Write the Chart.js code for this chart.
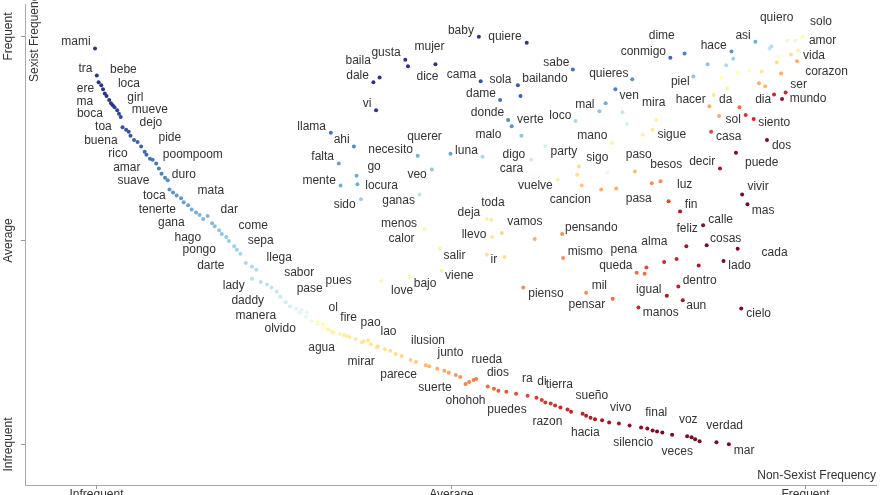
<!DOCTYPE html>
<html>
<head>
<meta charset="utf-8">
<script src="https://cdn.jsdelivr.net/npm/chart.js@4"></script>
<style>
  html, body { margin: 0; padding: 0; background: #fff; }
  #wrap { width: 880px; height: 495px; }
</style>
</head>
<body>
<div id="wrap"><canvas id="chart" width="880" height="495"></canvas></div>
<script>
// rank scale: Infrequent = 0.1, Average = 0.5, Frequent = 0.9
const tickValues = [0.1, 0.5, 0.9];
const tickLabels = ['Infrequent', 'Average', 'Frequent'];

// labelled terms (where the word is written), x = non-sexist rank, y = sexist rank
const words = ['mami','tra','bebe','ere','loca','ma','girl','boca','mueve','dejo','toa','buena','pide','rico','poompoom','amar','duro','suave','mata','toca','tenerte','dar','gana','come','hago','sepa','pongo','llega','darte','sabor','pues','lady','pase','daddy','ol','manera','fire','pao','olvido','lao','ilusion','agua','junto','rueda','mirar','dios','parece','ra','di','tierra','suerte','sueño','ohohoh','vivo','puedes','final','voz','razon','verdad','hacia','silencio','mar','veces',
  'baby','quiere','mujer','gusta','baila','sabe','dale','dice','cama','sola','bailando','dame','vi','donde','verte','loco','llama','ahi','querer','malo','necesito','luna','digo','party','falta','go','veo','cara','mente','locura','vuelve','sido','ganas','toda','cancion','deja','menos','vamos','pensando','calor','llevo','salir','ir','mismo','viene','bajo','love','pienso',
  'quiero','solo','dime','asi','amor','hace','conmigo','vida','corazon','quieres','piel','ser','ven','mundo','hacer','da','dia','mira','mal','sol','siento','mano','sigue','casa','dos','sigo','paso','besos','decir','puede','luz','vivir','pasa','fin','mas','calle','feliz','cosas','alma','pena','cada','queda','lado','dentro','mil','igual','pensar','aun','manos','cielo'];

const wordX = [0.0775,0.0882,0.1310,0.0882,0.1372,0.0876,0.1445,0.0932,0.1608,0.1620,0.1085,0.1056,0.1834,0.1248,0.2093,0.1349,0.1992,0.1423,0.2296,0.1659,0.1693,0.2504,0.1851,0.2775,0.2037,0.2859,0.2166,0.3068,0.2296,0.3293,0.3738,0.2555,0.3411,0.2713,0.3676,0.2803,0.3851,0.4099,0.3079,0.4301,0.4746,0.3546,0.5000,0.5411,0.3992,0.5535,0.4414,0.5868,0.6031,0.6228,0.4825,0.6594,0.5169,0.6921,0.5637,0.7321,0.7682,0.6093,0.8093,0.6521,0.7062,0.8313,0.7558,
  0.5118,0.5614,0.4763,0.4273,0.3958,0.6194,0.3952,0.4741,0.5124,0.5563,0.6065,0.5344,0.4059,0.5417,0.5901,0.6239,0.3434,0.3772,0.4707,0.5428,0.4324,0.5180,0.5715,0.6279,0.3558,0.4138,0.4623,0.5687,0.3518,0.4223,0.5958,0.3806,0.4414,0.5479,0.6352,0.5208,0.4420,0.5839,0.6589,0.4448,0.5265,0.5045,0.5490,0.6521,0.5101,0.4713,0.4454,0.6076,
  0.8679,0.9180,0.7383,0.8301,0.9197,0.7969,0.7175,0.9101,0.9242,0.6786,0.7592,0.8927,0.7017,0.9034,0.7710,0.8104,0.8527,0.7293,0.6515,0.8189,0.8651,0.6600,0.7496,0.8138,0.8735,0.6656,0.7124,0.7434,0.7839,0.8510,0.7642,0.8470,0.7124,0.7715,0.8527,0.8048,0.7670,0.8104,0.7299,0.6955,0.8656,0.6865,0.8262,0.7811,0.6679,0.7237,0.6538,0.7772,0.7372,0.8476];

const wordY = [0.8883,0.8359,0.8340,0.7971,0.8068,0.7699,0.7796,0.7466,0.7544,0.7291,0.7214,0.6942,0.7000,0.6689,0.6670,0.6417,0.6282,0.6165,0.5971,0.5874,0.5602,0.5602,0.5330,0.5272,0.5039,0.4981,0.4806,0.4650,0.4495,0.4359,0.4204,0.4107,0.4049,0.3816,0.3680,0.3524,0.3485,0.3388,0.3272,0.3214,0.3039,0.2883,0.2786,0.2650,0.2612,0.2398,0.2359,0.2282,0.2223,0.2165,0.2107,0.1951,0.1854,0.1718,0.1680,0.1621,0.1485,0.1447,0.1369,0.1233,0.1039,0.0883,0.0864,
  0.9097,0.8981,0.8786,0.8670,0.8515,0.8476,0.8223,0.8204,0.8243,0.8146,0.8165,0.7874,0.7660,0.7485,0.7350,0.7427,0.7214,0.6961,0.7019,0.7058,0.6767,0.6748,0.6670,0.6728,0.6631,0.6437,0.6282,0.6398,0.6165,0.6068,0.6068,0.5699,0.5777,0.5738,0.5796,0.5544,0.5311,0.5350,0.5233,0.5019,0.5097,0.4689,0.4612,0.4767,0.4301,0.4146,0.4010,0.3951,
  0.9350,0.9272,0.9000,0.9000,0.8903,0.8806,0.8689,0.8612,0.8301,0.8262,0.8107,0.8049,0.7835,0.7777,0.7738,0.7738,0.7738,0.7680,0.7641,0.7350,0.7291,0.7039,0.7058,0.7019,0.6845,0.6612,0.6670,0.6476,0.6534,0.6515,0.6087,0.6049,0.5816,0.5699,0.5583,0.5408,0.5214,0.5019,0.4961,0.4806,0.4748,0.4495,0.4495,0.4204,0.4107,0.4029,0.3738,0.3718,0.3583,0.3563];

// term points: [non-sexist rank, sexist rank, score]  score 1 = sexist, 0 = non-sexist
const sexistStreak = [
  [0.099,0.875,1],[0.101,0.822,1],[0.103,0.809,1],[0.106,0.803,1],[0.108,0.795,1],[0.110,0.787,1],[0.112,0.782,1],[0.115,0.774,1],[0.117,0.768,1],[0.119,0.764,1],
  [0.121,0.760,.98],[0.124,0.754,.98],[0.126,0.747,.97],[0.128,0.741,.97],[0.130,0.721,.95],[0.134,0.716,.95],[0.137,0.712,.95],[0.139,0.704,.95],[0.143,0.696,.93],[0.147,0.692,.93],
  [0.151,0.683,.93],[0.155,0.673,.92],[0.157,0.667,.92],[0.161,0.659,.9],[0.164,0.657,.9],[0.168,0.650,.9],[0.171,0.640,.88],[0.174,0.630,.88],[0.178,0.622,.87],[0.181,0.617,.86],
  [0.183,0.599,.85],[0.187,0.593,.85],[0.191,0.587,.84],[0.196,0.582,.84],[0.199,0.574,.82],[0.204,0.568,.82],[0.208,0.560,.8],[0.213,0.554,.8],[0.217,0.549,.78],[0.221,0.541,.78],
  [0.226,0.547,.78],[0.231,0.533,.77],[0.234,0.527,.76],[0.239,0.519,.75],[0.242,0.512,.75],[0.247,0.506,.74],[0.250,0.498,.73],[0.256,0.488,.72],[0.259,0.481,.72],[0.263,0.473,.71],
  [0.269,0.455,.7],[0.276,0.448,.7],[0.281,0.442,.69],[0.276,0.424,.68],[0.286,0.418,.68],[0.293,0.413,.67],[0.298,0.407,.66],[0.304,0.399,.65],[0.308,0.389,.64],[0.314,0.378,.63],
  [0.319,0.370,.62],[0.326,0.366,.6],[0.330,0.358,.6],[0.337,0.350,.58],[0.343,0.341,.55],[0.350,0.335,.53],[0.358,0.327,.5],[0.366,0.321,.48],[0.375,0.316,.46],[0.383,0.312,.45],
  [0.393,0.306,.44],[0.402,0.302,.42],[0.410,0.296,.42],[0.418,0.292,.4]
];

const neutralStreak = [
  [0.332,0.364,.58],[0.338,0.358,.57],[0.350,0.339,.5],[0.356,0.335,.48],[0.362,0.325,.46],[0.368,0.319,.45],[0.380,0.314,.44],[0.386,0.310,.44],[0.400,0.300,.42],[0.407,0.304,.42],
  [0.417,0.290,.41],[0.426,0.286,.4],[0.432,0.283,.4],[0.438,0.277,.39],[0.445,0.273,.38],[0.455,0.265,.37],[0.461,0.261,.36],[0.472,0.255,.33],[0.476,0.253,.32],[0.485,0.248,.3],
  [0.493,0.244,.29],[0.498,0.240,.28],[0.506,0.236,.27],[0.511,0.232,.26],[0.517,0.218,.23],[0.521,0.222,.23],[0.526,0.226,.23],[0.529,0.228,.23],[0.542,0.213,.2],[0.549,0.209,.19],
  [0.554,0.205,.18],[0.563,0.203,.17],[0.574,0.199,.16],[0.587,0.195,.15],[0.597,0.191,.13],[0.603,0.187,.13],[0.607,0.182,.12],[0.613,0.180,.12],[0.618,0.176,.11],[0.624,0.172,.1],
  [0.632,0.168,.1],[0.636,0.164,.09],[0.649,0.160,.08],[0.653,0.156,.07],[0.658,0.152,.07],[0.663,0.149,.06],[0.671,0.147,.05],[0.679,0.143,.05],[0.690,0.141,.04],[0.702,0.137,.03],
  [0.715,0.133,.02],[0.722,0.131,.02],[0.728,0.127,.01],[0.733,0.125,0],[0.739,0.123,0],[0.750,0.119,0],[0.767,0.116,0],[0.772,0.114,0],[0.776,0.110,0],[0.781,0.106,0],
  [0.800,0.104,0],[0.814,0.100,0]
];

const middleCloud = [
  [0.532,0.898,1],[0.586,0.886,1],[0.483,0.844,1],[0.449,0.853,1],[0.452,0.840,1],[0.413,0.809,1],[0.420,0.818,1],[0.534,0.811,.96],[0.576,0.803,.94],[0.579,0.782,.93],
  [0.638,0.834,.9],[0.556,0.774,.9],[0.416,0.754,1],[0.565,0.735,.86],[0.569,0.723,.85],[0.641,0.733,.7],[0.365,0.710,.9],[0.391,0.683,.86],[0.463,0.665,.8],[0.580,0.704,.75],
  [0.500,0.669,.82],[0.536,0.663,.7],[0.591,0.657,.64],[0.607,0.684,.62],[0.374,0.650,.82],[0.394,0.626,.8],[0.479,0.638,.74],[0.376,0.607,.8],[0.395,0.609,.8],[0.621,0.618,.45],
  [0.399,0.580,.72],[0.465,0.589,.66],[0.541,0.541,.45],[0.546,0.539,.44],[0.471,0.521,.47],[0.595,0.502,.3],[0.547,0.506,.42],[0.558,0.514,.38],[0.626,0.512,.25],[0.488,0.483,.46],
  [0.490,0.440,.45],[0.541,0.471,.4],[0.561,0.467,.4],[0.627,0.465,.25],[0.582,0.407,.25],[0.422,0.420,.47],[0.454,0.428,.47]
];

const rightCloud = [
  [0.675,0.768,.8],[0.686,0.795,.88],[0.705,0.815,.85],[0.668,0.752,.75],[0.694,0.750,.65],[0.699,0.727,.62],[0.682,0.690,.45],[0.677,0.632,.55],[0.643,0.628,.4],[0.645,0.644,.4],
  [0.648,0.607,.35],[0.670,0.599,.3],[0.687,0.601,.3],[0.708,0.634,.33],[0.717,0.706,.45],[0.728,0.716,.43],[0.732,0.735,.45],[0.727,0.611,.25],[0.737,0.615,.25],[0.746,0.576,.15],
  [0.759,0.556,.05],[0.785,0.529,.02],[0.789,0.490,0],[0.766,0.488,.05],[0.824,0.483,0],[0.741,0.457,.1],[0.755,0.463,.1],[0.780,0.450,.05],[0.710,0.436,.2],[0.719,0.434,.2],
  [0.721,0.446,.15],[0.808,0.459,0],[0.757,0.409,.08],[0.653,0.397,.25],[0.744,0.391,.05],[0.683,0.385,.2],[0.762,0.382,.05],[0.712,0.368,.1],[0.828,0.366,0],[0.804,0.640,.05],
  [0.822,0.671,0],[0.857,0.696,0],[0.829,0.589,0],[0.835,0.570,0],[0.794,0.712,.15]
];

const topCloud = [
  [0.748,0.857,.92],[0.764,0.865,.88],[0.774,0.820,.75],[0.790,0.844,.75],[0.811,0.842,.7],[0.817,0.869,.85],[0.819,0.855,.72],[0.844,0.888,.8],[0.862,0.879,.68],[0.860,0.875,.66],
  [0.880,0.890,.55],[0.889,0.890,.55],[0.897,0.898,.48],[0.870,0.859,.5],[0.884,0.863,.4],[0.892,0.871,.45],[0.891,0.850,.3],[0.868,0.848,.4],[0.851,0.830,.42],[0.837,0.832,.5],
  [0.873,0.826,.3],[0.824,0.828,.5],[0.806,0.817,.5],[0.848,0.807,.3],[0.855,0.801,.32],[0.812,0.797,.45],[0.797,0.784,.42],[0.865,0.785,.1],[0.878,0.789,.1],[0.874,0.776,.02],
  [0.792,0.762,.3],[0.826,0.760,.2],[0.803,0.743,.3],[0.833,0.745,.12],[0.842,0.737,.1]
];

// RdYlBu, red (non-sexist) -> blue (sexist)
const PALETTE = ['#7a0a22','#c8282b','#f46d43','#fdae61','#fee090','#ffffbf','#e0f3f8','#abd9e9','#74add1','#4575b4','#2b3584'];

function hexRgb(h) {
    return [parseInt(h.slice(1, 3), 16), parseInt(h.slice(3, 5), 16), parseInt(h.slice(5, 7), 16)];
}

function scoreColor(s) {
    const f = Math.min(Math.max(s, 0), 1) * 10;
    const i = Math.min(Math.floor(f), 9);
    const t = f - i;
    const a = hexRgb(PALETTE[i]), b = hexRgb(PALETTE[i + 1]);
    const c = a.map((v, k) => Math.round(v + (b[k] - v) * t));
    return `rgb(${c[0]},${c[1]},${c[2]})`;
}

const FONT = '12px "Liberation Sans", Arial, sans-serif';

const termLabels = {
    id: 'termLabels',
    afterDatasetsDraw(chart) {
        const { ctx, scales: { x, y } } = chart;
        ctx.save();
        ctx.font = FONT;
        ctx.fillStyle = '#333';
        ctx.textAlign = 'center';
        ctx.textBaseline = 'middle';
        words.forEach((w, i) => {
            ctx.fillText(w, x.getPixelForValue(wordX[i]), y.getPixelForValue(wordY[i]));
        });
        ctx.restore();
    },
};

const axisText = {
    id: 'axisText',
    afterDraw(chart) {
        const { ctx, chartArea, scales: { x, y } } = chart;
        ctx.save();
        ctx.strokeStyle = '#999';
        ctx.lineWidth = 1;
        ctx.font = FONT;
        ctx.fillStyle = '#333';

        tickValues.forEach((v, i) => {
            const py = Math.round(y.getPixelForValue(v)) + 0.5;
            ctx.beginPath();
            ctx.moveTo(chartArea.left - 4, py);
            ctx.lineTo(chartArea.left, py);
            ctx.stroke();
            ctx.save();
            ctx.translate(9, py);
            ctx.rotate(-Math.PI / 2);
            ctx.textAlign = 'center';
            ctx.textBaseline = 'middle';
            ctx.fillText(tickLabels[i], 0, 0);
            ctx.restore();

            const px = Math.round(x.getPixelForValue(v)) + 0.5;
            ctx.beginPath();
            ctx.moveTo(px, chartArea.bottom);
            ctx.lineTo(px, chartArea.bottom + 4);
            ctx.stroke();
            ctx.textAlign = 'center';
            ctx.textBaseline = 'top';
            ctx.fillText(tickLabels[i], px, chartArea.bottom + 4);
        });

        ctx.save();
        ctx.translate(35, 82);
        ctx.rotate(-Math.PI / 2);
        ctx.textAlign = 'left';
        ctx.textBaseline = 'middle';
        ctx.fillText('Sexist Frequency', 0, 0);
        ctx.restore();

        ctx.textAlign = 'right';
        ctx.textBaseline = 'middle';
        ctx.fillText('Non-Sexist Frequency', chartArea.right, chartArea.bottom - 9);
        ctx.restore();
    },
};

const points = [...sexistStreak, ...neutralStreak, ...middleCloud, ...rightCloud, ...topCloud]
    .map(([x, y, s]) => ({ x, y, s }));

new Chart(document.getElementById('chart'), {
    type: 'scatter',
    data: {
        datasets: [{
            data: points,
            backgroundColor: (ctx) => scoreColor(ctx.raw ? ctx.raw.s : 0.5),
            borderWidth: 0,
            pointRadius: 2,
        }],
    },
    options: {
        responsive: false,
        animation: false,
        devicePixelRatio: 1,
        layout: { padding: { left: 25, right: 3, top: 0, bottom: 10 } },
        plugins: {
            legend: { display: false },
            tooltip: { enabled: false },
        },
        scales: {
            x: {
                type: 'linear',
                min: 0.02,
                max: 0.98,
                ticks: { display: false },
                grid: { display: false, drawTicks: false },
                border: { display: true, color: '#aaa' },
            },
            y: {
                type: 'linear',
                min: 0.0204,
                max: 0.9621,
                ticks: { display: false },
                grid: { display: false, drawTicks: false },
                border: { display: true, color: '#aaa' },
            },
        },
    },
    plugins: [termLabels, axisText],
});
</script>
</body>
</html>
